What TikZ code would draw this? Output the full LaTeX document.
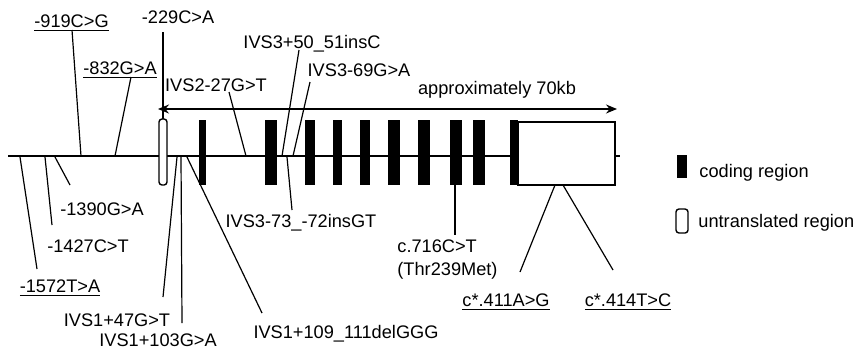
\documentclass[tikz,border=0pt]{standalone}
\usepackage{fontspec}
\setmainfont{Liberation Sans}
\usetikzlibrary{arrows.meta,calc}
\begin{document}
\begin{tikzpicture}[x=0.5pt, y=-0.5pt, >={Stealth[length=5.5pt,width=4.5pt]},
        lbl/.style={inner sep=0pt, anchor=base, font=\fontsize{9.1}{11.5}\selectfont},
        ptr/.style={line width=0.6pt},
        utr/.style={draw, line width=0.7pt, fill=white}]
        \useasboundingbox (0,0) rectangle (855,349);

        % Gene line
        \draw[line width=0.9pt] (8,156) -- (620,156);

        % Exons: 5' untranslated exon, coding exons, last exon with 3' UTR
        \draw[utr, rounded corners=1.5pt] (159,119) rectangle (167,185);
        \fill (199,120) rectangle (206,185);
        \fill (265,120) rectangle (277,185);
        \fill (305,120) rectangle (315,185);
        \fill (333,120) rectangle (342,185);
        \fill (360,120) rectangle (370,185);
        \fill (388,120) rectangle (400,185);
        \fill (418,120) rectangle (430,185);
        \fill (450,120) rectangle (462,185);
        \fill (473,120) rectangle (485,185);
        \fill (510,120) rectangle (518,185);
        \draw[utr] (518,122) rectangle (615,185);

        % Length of the gene
        \coordinate (arrL) at (158,109);
        \coordinate (arrR) at (617,109);
        \draw[<->, line width=0.7pt] (arrL) -- (arrR);
        \node[lbl] (len) at (497,94) {approximately 70kb};

        % Points on the gene
        \coordinate (g919) at (81,156);
        \coordinate (g229) at (163,119);
        \coordinate (g832) at (115,156);
        \coordinate (gIVS2) at (246,156);
        \coordinate (g5051) at (282,156);
        \coordinate (g69) at (293,156);
        \coordinate (g1390) at (55,157);
        \coordinate (g1427) at (45,157);
        \coordinate (g1572) at (20,157);
        \coordinate (g47) at (177,157);
        \coordinate (g103) at (181,157);
        \coordinate (g109) at (187,157);
        \coordinate (g7372) at (287,157);
        \coordinate (g716) at (455,185);
        \coordinate (g411) at (555,185);
        \coordinate (g414) at (563,185);

        % Variants above the line
        \node[lbl] (m919) at (71.5,27) {\underline{-919C>G}};
        \node[lbl] (m229) at (178,23) {-229C>A};
        \node[lbl] (m832) at (120,74) {\underline{-832G>A}};
        \node[lbl] (mIVS2) at (216,91) {IVS2-27G>T};
        \node[lbl] (m5051) at (312,48) {IVS3+50\_51insC};
        \node[lbl] (m69) at (359,76) {IVS3-69G>A};

        \draw[ptr] ($(m919.base)+(0.5,3)$) -- (g919);
        \draw[ptr] ($(m229.base)+(-15,9)$) -- (g229);
        \draw[ptr] ($(m832.base)+(11,3)$) -- (g832);
        \draw[ptr] ($(mIVS2.base)+(13,1)$) -- (gIVS2);
        \draw[ptr] ($(m5051.base)+(-13,2)$) -- (g5051);
        \draw[ptr] ($(m69.base)+(-49,6)$) -- (g69);

        % Variants below the line
        \node[lbl] (m1390) at (102,215) {-1390G>A};
        \node[lbl] (m1427) at (88,252) {-1427C>T};
        \node[lbl] (m1572) at (60,292) {\underline{-1572T>A}};
        \node[lbl] (m47) at (117,326) {IVS1+47G>T};
        \node[lbl] (m103) at (158,346) {IVS1+103G>A};
        \node[lbl] (m109) at (346,338) {IVS1+109\_111delGGG};
        \node[lbl] (m7372) at (301,227) {IVS3-73\_-72insGT};
        \node[lbl, anchor=base west, align=left] (m716) at (397,275) {c.716C>T\\(Thr239Met)};
        \node[lbl] (m411) at (506,306) {\underline{c*.411A>G}};
        \node[lbl] (m414) at (628,306) {\underline{c*.414T>C}};

        \draw[ptr] (g1390) -- ($(m1390.base)+(-32,-30)$);
        \draw[ptr] (g1427) -- ($(m1427.base)+(-36,-27)$);
        \draw[ptr] (g1572) -- ($(m1572.base)+(-23,-23)$);
        \draw[ptr] (g47) -- ($(m47.base)+(46,-29)$);
        \draw[ptr] (g103) -- ($(m103.base)+(24,-23)$);
        \draw[ptr] (g109) -- ($(m109.base)+(-84,-25)$);
        \draw[ptr] (g7372) -- ($(m7372.base)+(-9,-17)$);
        \draw[ptr] (g716) -- ($(m716.base west)+(58,-40)$);
        \draw[ptr] (g411) -- ($(m411.base)+(14,-34)$);
        \draw[ptr] (g414) -- ($(m414.base)+(-15,-36)$);

        % Legend
        \fill (677,155) rectangle (687,178);
        \node[lbl, anchor=base west] (keyCoding) at (699,177) {coding region};
        \draw[utr, rounded corners=1.5pt] (676,209) rectangle (688,233);
        \node[lbl, anchor=base west] (keyUTR) at (698,227) {untranslated region};
\end{tikzpicture}
\end{document}
